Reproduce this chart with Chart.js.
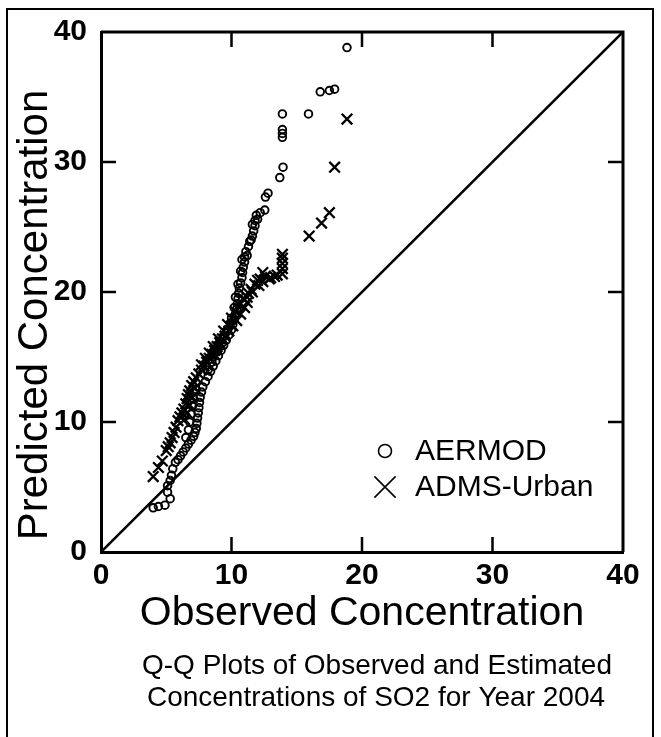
<!DOCTYPE html>
<html>
<head>
<meta charset="utf-8">
<script src="https://cdn.jsdelivr.net/npm/chart.js@4.4.1/dist/chart.umd.min.js"></script>
<style>
  html, body { margin: 0; padding: 0; background: #fff; }
  #wrap { width: 661px; height: 737px; }
</style>
</head>
<body>
<div id="wrap"><canvas id="qq"></canvas></div>
<script>
// values (concentrations, same units on both axes)
const tickValues = [0, 10, 20, 30, 40];
const seriesNames = ["AERMOD", "ADMS-Urban"];

const aermodObs = [4.0, 4.4, 4.9, 5.3, 5.1, 5.1, 5.3, 5.4, 5.5, 5.7, 5.9,
  6.1, 6.3, 6.5, 6.5, 6.7, 6.7, 6.8, 6.9, 6.9, 7.0, 7.1, 7.1, 7.2, 7.3, 7.3, 7.35, 7.4, 7.45, 7.5,
  7.55, 7.6, 7.7, 7.8, 8.0, 8.2, 8.2, 8.4, 8.5, 8.6, 8.6, 8.8, 8.9, 9.0, 9.0, 9.2, 9.3, 9.4, 9.4,
  9.6, 9.7, 9.8, 9.9, 10.0, 10.0, 10.1, 10.2, 10.2, 10.3, 10.3, 10.4, 10.45, 10.5, 10.5, 10.55,
  10.6, 10.7, 10.7, 10.8, 10.8, 10.85, 10.9, 11.0, 11.0, 11.1, 11.2, 11.3, 11.4, 11.5, 11.6,
  11.6, 11.7, 11.8, 11.8, 11.9, 12.0, 12.2, 12.55, 12.6, 12.8, 13.7, 13.95, 13.9, 13.9,
  13.9, 13.9, 15.9, 16.8, 17.5, 17.9, 18.85];
const aermodPred = [3.4, 3.5, 3.6, 4.1, 4.6, 5.1, 5.5, 5.9, 6.4, 6.9, 7.1,
  7.4, 7.7, 8.0, 8.8, 8.3, 9.4, 10.0, 8.6, 10.6, 11.2, 8.9, 11.8, 9.2, 9.5, 12.5, 9.9, 10.3, 10.7, 11.1,
  11.5, 11.9, 12.3, 12.7, 13.1, 13.5, 14.0, 13.9, 14.6, 14.3, 15.0, 14.7, 15.4, 15.1, 15.8, 15.5, 16.1, 15.9, 16.6,
  16.3, 17.0, 16.7, 17.6, 17.1, 18.0, 17.5, 17.9, 18.8, 18.3, 19.6, 18.7, 19.1, 19.5, 20.6, 19.9,
  20.3, 20.7, 21.6, 21.1, 22.5, 21.5, 21.9, 22.3, 22.7, 23.1, 22.8, 23.5, 23.9, 24.0, 24.3,
  25.2, 24.7, 25.1, 25.5, 25.9, 25.6, 26.1, 26.3, 27.3, 27.6, 28.8, 29.6, 31.9, 32.2,
  32.5, 33.7, 33.7, 35.4, 35.5, 35.6, 38.8];

const admsObs = [4.0, 4.4, 4.7, 5.0, 5.15, 5.3, 5.45, 5.6, 5.75, 5.9, 6.05, 6.2, 6.35, 6.4, 6.5,
  6.6, 6.6, 6.7, 6.8, 6.8, 6.95, 7.0, 7.1, 7.2, 7.3, 7.5, 7.7, 7.7, 7.9, 8.0, 8.1, 8.3, 8.3, 8.5,
  8.6, 8.7, 8.9, 9.0, 9.1, 9.3, 9.4, 9.5, 9.7, 9.8, 10.0, 10.1, 10.3, 10.4, 10.6, 10.7, 10.9,
  11.0, 11.2, 11.2, 11.3, 11.5, 11.6, 11.8, 12.0, 12.1, 12.2, 12.4, 12.4, 12.6, 12.9, 13.0,
  13.3, 13.5, 13.9, 13.9, 13.9, 13.9, 13.9, 15.95, 16.9, 17.5, 17.9, 18.85];
const admsPred = [5.8, 6.5, 7.0, 7.8, 8.1, 8.4, 8.8, 9.2, 9.6, 10.1, 10.4, 10.7, 11.0, 10.2, 11.4,
  11.8, 10.7, 12.1, 12.4, 11.3, 12.8, 11.9, 13.1, 12.6, 13.4, 13.7, 14.0, 14.4, 14.3, 14.9, 14.6, 14.9, 15.3, 15.2,
  15.8, 15.5, 15.8, 16.4, 16.1, 16.4, 17.0, 16.6, 17.5, 17.0, 18.0, 17.4, 18.5, 17.8, 19.0, 18.3, 19.5,
  18.8, 19.2, 19.6, 19.9, 20.2, 20.0, 20.6, 20.9, 20.5, 21.0, 20.8, 21.5, 21.2, 21.0, 21.1,
  21.2, 21.3, 21.4, 21.8, 22.2, 22.6, 22.9, 24.3, 25.3, 26.1, 29.6, 33.3];

const unityX = [0, 40];
const unityY = [0, 40];

const caption = ["Q-Q Plots of Observed and Estimated", "Concentrations of SO2 for Year 2004"];

function pairs(xs, ys) {
  return xs.map((x, i) => ({ x: x, y: ys[i] }));
}

const FONT = "'Liberation Sans', Arial, sans-serif";

// box, inner ticks, legend, caption, outer frame
const extras = {
  id: "extras",
  afterDraw(chart) {
    const ctx = chart.ctx;
    const a = chart.chartArea;
    const sx = chart.scales.x, sy = chart.scales.y;
    ctx.save();
    ctx.strokeStyle = "#000";
    ctx.fillStyle = "#000";

    ctx.lineWidth = 3;
    ctx.beginPath();
    ctx.moveTo(a.left, a.top);
    ctx.lineTo(a.right, a.top);
    ctx.lineTo(a.right, a.bottom);
    ctx.stroke();

    ctx.lineWidth = 2.5;
    tickValues.slice(1, -1).forEach(v => {
      const px = sx.getPixelForValue(v);
      const py = sy.getPixelForValue(v);
      ctx.beginPath();
      ctx.moveTo(px, a.bottom); ctx.lineTo(px, a.bottom - 15);
      ctx.moveTo(px, a.top); ctx.lineTo(px, a.top + 15);
      ctx.moveTo(a.left, py); ctx.lineTo(a.left + 15, py);
      ctx.moveTo(a.right, py); ctx.lineTo(a.right - 15, py);
      ctx.stroke();
    });

    // legend inside the plot
    const ds = chart.data.datasets;
    const rows = [{ y: 451, r: 6.5, i: 0 }, { y: 487, r: 15, i: 1 }];
    rows.forEach(row => {
      const d = ds[row.i];
      ctx.lineWidth = 1.6;
      ctx.fillStyle = "rgba(0,0,0,0)";
      Chart.helpers.drawPoint(ctx, { pointStyle: d.pointStyle, radius: row.r, borderWidth: 1.6, rotation: 0 }, 385, row.y);
      ctx.fillStyle = "#000";
      ctx.font = "30px " + FONT;
      ctx.textAlign = "left";
      ctx.textBaseline = "middle";
      ctx.fillText(d.label, 415, row.y + 1);
    });

    ctx.font = "28px " + FONT;
    ctx.textAlign = "center";
    ctx.textBaseline = "middle";
    ctx.fillText(caption[0], 377, 666);
    ctx.fillText(caption[1], 376, 698);

    ctx.lineWidth = 2;
    ctx.strokeRect(7, 9, 646, 800);
    ctx.restore();
  }
};

new Chart(document.getElementById("qq"), {
  type: "scatter",
  data: {
    datasets: [
      {
        label: seriesNames[0],
        data: pairs(aermodObs, aermodPred),
        pointStyle: "circle",
        pointRadius: 3.8,
        borderWidth: 1.9,
        borderColor: "#000",
        backgroundColor: "rgba(0,0,0,0)",
        order: 1
      },
      {
        label: seriesNames[1],
        data: pairs(admsObs, admsPred),
        pointStyle: "crossRot",
        pointRadius: 7.5,
        borderWidth: 2.3,
        borderColor: "#000",
        backgroundColor: "rgba(0,0,0,0)",
        order: 2
      },
      {
        label: "1:1",
        data: pairs(unityX, unityY),
        showLine: true,
        pointRadius: 0,
        borderWidth: 2.6,
        borderColor: "#000",
        order: 3
      }
    ]
  },
  options: {
    responsive: true,
    maintainAspectRatio: false,
    animation: false,
    layout: { padding: { top: 31, right: 38, left: 0, bottom: 0 } },
    plugins: {
      legend: { display: false },
      tooltip: { enabled: false }
    },
    scales: {
      x: {
        type: "linear",
        min: 0,
        max: 40,
        afterBuildTicks: s => { s.ticks = tickValues.map(v => ({ value: v })); },
        afterFit: s => { s.height = 185; },
        grid: { display: false, drawTicks: false },
        border: { display: true, width: 3, color: "#000" },
        ticks: { color: "#000", padding: 6, font: { family: FONT, size: 30, weight: "bold" } },
        title: {
          display: true,
          text: "Observed Concentration",
          color: "#000",
          font: { family: FONT, size: 41 },
          padding: { top: 0, bottom: 99 }
        }
      },
      y: {
        type: "linear",
        min: 0,
        max: 40,
        afterBuildTicks: s => { s.ticks = tickValues.map(v => ({ value: v })); },
        afterFit: s => { s.width = 101; },
        grid: { display: false, drawTicks: false },
        border: { display: true, width: 3, color: "#000" },
        ticks: { color: "#000", padding: 14, font: { family: FONT, size: 30, weight: "bold" } },
        title: {
          display: true,
          text: " Predicted Concentration",
          align: "start",
          color: "#000",
          font: { family: FONT, size: 42 },
          padding: { top: 10, bottom: 0 }
        }
      }
    }
  },
  plugins: [extras]
});
</script>
</body>
</html>
